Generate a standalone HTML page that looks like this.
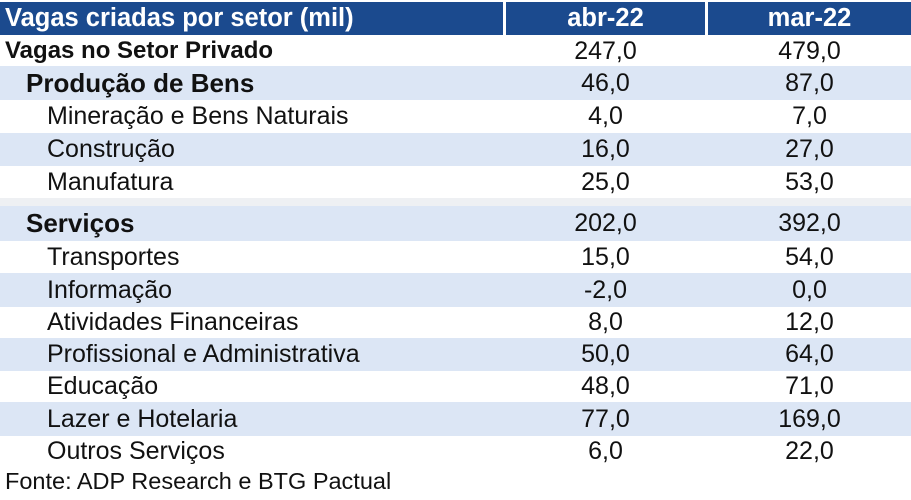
<!DOCTYPE html>
<html><head><meta charset="utf-8"><style>
body{margin:0;width:911px;height:500px;background:#fff;overflow:hidden;font-family:"Liberation Sans",Arial,sans-serif;}
#t{position:relative;width:911px;height:500px;}
.r{position:absolute;left:0;width:911px;}
.c{position:absolute;top:0;height:100%;display:flex;align-items:center;font-size:25px;color:#111;white-space:nowrap;}
.h{position:absolute;top:2px;height:33px;background:#1b4a8e;color:#fff;font-weight:bold;font-size:25.5px;display:flex;align-items:center;}
</style></head><body>
<div id="t">
<div class="h" style="left:0;width:503px;padding-left:5px;box-sizing:border-box">Vagas criadas por setor (mil)</div>
<div class="h" style="left:506px;width:199px;justify-content:center">abr-22</div>
<div class="h" style="left:708px;width:203px;justify-content:center">mar-22</div>
</div>
<script>
const labels=["Vagas no Setor Privado","Produção de Bens","Mineração e Bens Naturais","Construção","Manufatura","","Serviços","Transportes","Informação","Atividades Financeiras","Profissional e Administrativa","Educação","Lazer e Hotelaria","Outros Serviços"];
const abr=["247,0","46,0","4,0","16,0","25,0","","202,0","15,0","-2,0","8,0","50,0","48,0","77,0","6,0"];
const mar=["479,0","87,0","7,0","27,0","53,0","","392,0","54,0","0,0","12,0","64,0","71,0","169,0","22,0"];
const levels=[0,1,2,2,2,-1,1,2,2,2,2,2,2,2];
const tops=[36,66,100,133,166,198,206,241,273,307,338,371,402,436,467];
const bgs=["#fff","#dce6f5","#fff","#dce6f5","#fff","#eef0f3","#dce6f5","#fff","#dce6f5","#fff","#dce6f5","#fff","#dce6f5","#fff"];
const t=document.getElementById('t');
labels.forEach((l,i)=>{
 const r=document.createElement('div');r.className='r';
 
 
 r.style.top=tops[i]+'px';r.style.height=(tops[i+1]-tops[i])+'px';r.style.background=bgs[i];
 if(levels[i]>=0){
  const a=document.createElement('div');a.className='c';
  
  
  a.style.left=[5,26,47][levels[i]]+'px';
  if(levels[i]<2)a.style.fontWeight='bold';
  if(levels[i]==0)a.style.fontSize='24px';
  if(levels[i]==1)a.style.fontSize='26px';
  a.textContent=l;r.appendChild(a);
  [[abr,506,199],[mar,708,203]].forEach(([arr,x,w])=>{
   const v=document.createElement('div');v.className='c';
   
   
   v.style.left=x+'px';v.style.width=w+'px';v.style.justifyContent='center';
   v.textContent=arr[i];r.appendChild(v);
  });
 }
 t.appendChild(r);
});
const f=document.createElement('div');


f.style.cssText='position:absolute;left:5px;top:468px;font-size:23.5px;color:#111;';
f.textContent='Fonte: ADP Research e BTG Pactual';
t.appendChild(f);
</script>
</body></html>
